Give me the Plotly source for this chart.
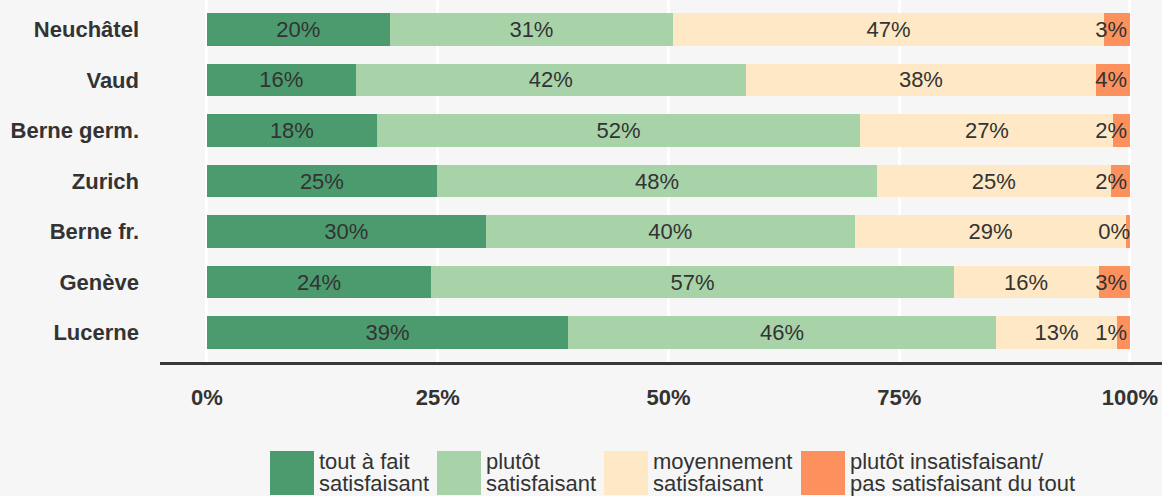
import plotly.graph_objects as go

# Satisfaction by canton (share of respondents, %)
cantons = ["Neuchâtel", "Vaud", "Berne germ.", "Zurich", "Berne fr.", "Genève", "Lucerne"]
tout_a_fait = [19.8, 16.1, 18.4, 24.9, 30.2, 24.3, 39.1]
plutot_sat = [30.7, 42.3, 52.4, 47.7, 40.0, 56.6, 46.4]
moyennement = [46.7, 37.9, 27.4, 25.3, 29.4, 15.7, 13.1]
insatisfait = [2.8, 3.7, 1.8, 2.1, 0.4, 3.4, 1.4]

series_names = [
    ["tout à fait", "satisfaisant"],
    ["plutôt", "satisfaisant"],
    ["moyennement", "satisfaisant"],
    ["plutôt insatisfaisant/", "pas satisfaisant du tout"],
]
series_values = [tout_a_fait, plutot_sat, moyennement, insatisfait]
colors = ["#4b9b6e", "#a8d3a9", "#fee8c5", "#fc915e"]
x_ticks = [0, 25, 50, 75, 100]
x_tick_labels = ["0%", "25%", "50%", "75%", "100%"]

FONT = "Liberation Sans, Arial, Helvetica, sans-serif"
TEXT = "#333333"
BG = "#f6f6f6"

W, H = 1162, 496
M_L, M_R, M_T, M_B = 160, 0, 0, 134
PW, PH = W - M_L - M_R, H - M_T - M_B

fig = go.Figure()
for i, (vals, col, name) in enumerate(zip(series_values, colors, series_names)):
    fig.add_trace(go.Bar(
        y=cantons, x=vals, orientation="h", name=" ".join(name),
        marker=dict(color=col, line=dict(width=0)),
        texttemplate="%{x:.0f}%", textposition="inside", textangle=0,
        insidetextanchor="end" if i == 3 else "middle",
        constraintext="none",
        textfont=dict(family=FONT, size=22, color=TEXT),
        showlegend=False,
    ))

# custom legend: large swatches with two-line labels
def px_x(p):
    return (p - M_L) / PW

def px_y(p):
    return (M_T + PH - p) / PH

shapes, annotations = [], []
swatch_left = [270, 437, 604, 801]
for left, col, name in zip(swatch_left, colors, series_names):
    shapes.append(dict(type="rect", xref="paper", yref="paper",
                       x0=px_x(left), x1=px_x(left + 44),
                       y0=px_y(495), y1=px_y(451),
                       fillcolor=col, line=dict(width=0), layer="above"))
    for line, yc in zip(name, [461, 484]):
        annotations.append(dict(xref="paper", yref="paper", x=px_x(left + 47), y=px_y(yc),
                                xanchor="left", yanchor="middle", showarrow=False,
                                text=line, font=dict(family=FONT, size=22, color=TEXT)))

fig.update_layout(
    width=W, height=H, barmode="stack", bargap=0.35,
    margin=dict(l=M_L, r=M_R, t=M_T, b=M_B, pad=0),
    paper_bgcolor=BG, plot_bgcolor=BG,
    font=dict(family=FONT, color=TEXT),
    shapes=shapes, annotations=annotations,
    xaxis=dict(range=[-5.09, 103.47], tickvals=x_ticks, ticktext=x_tick_labels,
               showgrid=True, gridcolor="white", gridwidth=3, zeroline=False,
               showline=True, linecolor="#383838", linewidth=3,
               ticks="", ticklabelstandoff=14,
               tickfont=dict(family=FONT, size=22, color=TEXT, weight="bold"),
               fixedrange=True),
    yaxis=dict(autorange=False, range=[6.584, -0.584], showgrid=False, zeroline=False,
               showline=False, ticks="", ticklabelstandoff=20,
               tickfont=dict(family=FONT, size=22, color=TEXT, weight="bold"),
               fixedrange=True),
)

fig.write_html("out.html", config={"displayModeBar": False})
